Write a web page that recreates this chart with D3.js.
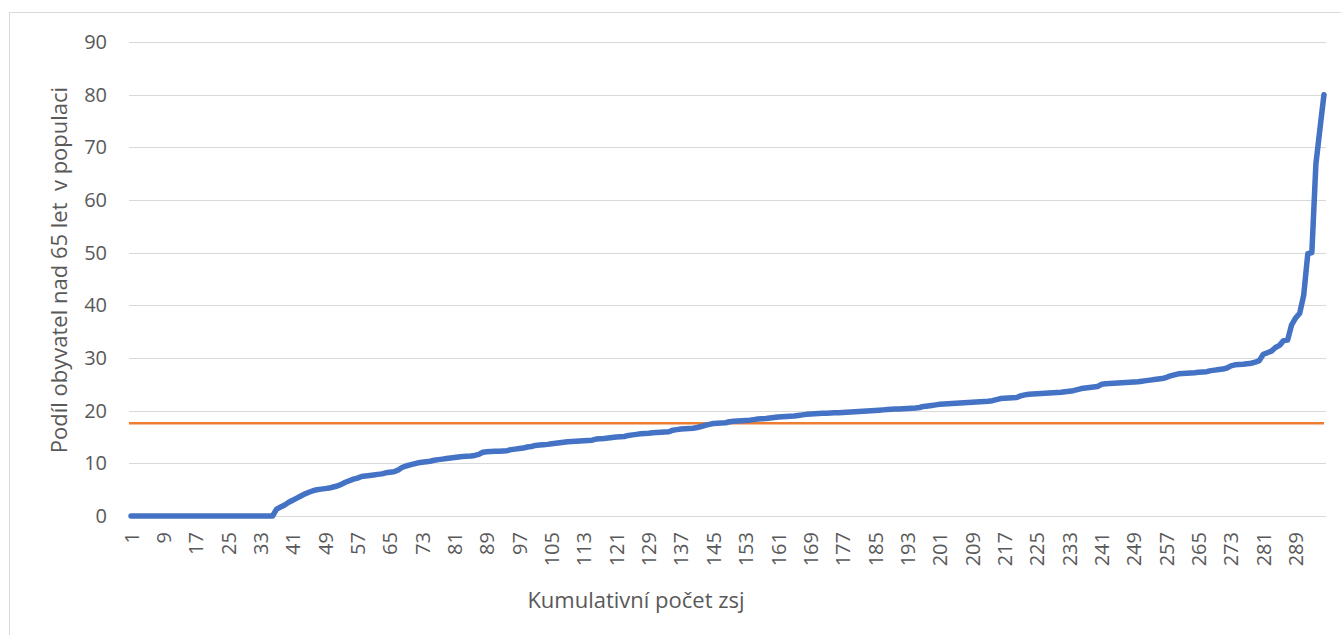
<!DOCTYPE html>
<html>
<head>
<meta charset="utf-8">
<script src="https://cdn.jsdelivr.net/npm/d3@7"></script>
<style>
  body { margin: 0; background: #fff; }
  svg text { font-family: "Open Sans", Lato, sans-serif; fill: #595959; }
</style>
</head>
<body>
<div id="chart"></div>
<script>
var width = 1341, height = 635;
var margin = {top: 42, right: 15, bottom: 119, left: 129};

// categories: poradi zsj 1..296
var categories = d3.range(1, 297);
var xTickLabels = categories.filter(function(c) { return (c - 1) % 8 === 0; });
var yTicks = [0, 10, 20, 30, 40, 50, 60, 70, 80, 90];

// podil obyvatel nad 65 let (serazeno)
var podil = [
  0,0,0,0,0,0,0,0,0,0, 0,0,0,0,0,0,0,0,0,0,
  0,0,0,0,0,0,0,0,0,0, 0,0,0,0,0,0,
  1.3,1.7,2.1,2.6,3.0,3.4,3.8,4.2,4.5,4.8,
  5.0,5.1,5.2,5.3,5.5,5.7,6.0,6.4,6.7,7.0,
  7.2,7.5,7.6,7.7,7.8,7.9,8.0,8.2,8.3,8.4,
  8.7,9.2,9.5,9.7,9.9,10.1,10.2,10.3,10.4,10.6,
  10.7,10.8,10.9,11.0,11.1,11.2,11.3,11.35,11.4,11.5,
  11.7,12.1,12.2,12.25,12.3,12.3,12.35,12.4,12.6,12.7,
  12.8,12.9,13.1,13.2,13.4,13.5,13.55,13.6,13.7,13.8,
  13.9,14.0,14.1,14.15,14.2,14.25,14.3,14.35,14.4,14.6,
  14.65,14.7,14.8,14.9,15.0,15.05,15.1,15.3,15.4,15.5,
  15.6,15.65,15.7,15.8,15.85,15.9,15.95,16.0,16.3,16.4,
  16.5,16.55,16.6,16.65,16.8,17.0,17.2,17.4,17.55,17.6,
  17.65,17.7,17.9,18.0,18.05,18.1,18.15,18.2,18.3,18.4,
  18.45,18.5,18.6,18.7,18.8,18.85,18.9,18.95,19.0,19.1,
  19.2,19.3,19.35,19.4,19.45,19.5,19.5,19.55,19.6,19.6,
  19.65,19.7,19.75,19.8,19.85,19.9,19.95,20.0,20.05,20.1,
  20.15,20.2,20.25,20.3,20.3,20.35,20.4,20.45,20.5,20.6,
  20.8,20.9,21.0,21.1,21.2,21.25,21.3,21.35,21.4,21.45,
  21.5,21.55,21.6,21.65,21.7,21.75,21.8,21.9,22.1,22.3,
  22.35,22.4,22.45,22.5,22.8,23.0,23.1,23.15,23.2,23.25,
  23.3,23.35,23.4,23.45,23.5,23.6,23.7,23.8,24.0,24.2,
  24.3,24.4,24.5,24.6,25.0,25.1,25.15,25.2,25.25,25.3,
  25.35,25.4,25.45,25.5,25.6,25.7,25.8,25.9,26.0,26.1,
  26.3,26.6,26.8,27.0,27.05,27.1,27.15,27.2,27.3,27.35,
  27.4,27.6,27.7,27.8,27.9,28.1,28.5,28.7,28.75,28.8,
  28.9,29.0,29.2,29.5,30.7,31.0,31.3,32.0,32.4,33.3,
  33.4,36.3,37.6,38.5,42.0,49.8,50.0,66.8,73.5,80.0
];

// prumerna hodnota (oranzova cara)
var prumer = 17.6;

var data = categories.map(function(c, i) { return {cat: c, val: podil[i]}; });

var svg = d3.select("#chart")
  .append("svg")
    .attr("width", width)
    .attr("height", height);

// ramecek grafu
svg.append("rect")
  .attr("x", 9.5).attr("y", 12.5)
  .attr("width", 1400).attr("height", 700)
  .attr("fill", "none")
  .attr("stroke", "#d9d9d9");

var x = d3.scalePoint()
  .domain(categories)
  .range([margin.left, width - margin.right])
  .padding(0.5);

var y = d3.scaleLinear()
  .domain([0, 90])
  .range([height - margin.bottom, margin.top]);

// mrizka
svg.append("g")
  .selectAll("line")
  .data(yTicks)
  .enter()
  .append("line")
    .attr("x1", margin.left)
    .attr("x2", width - margin.right)
    .attr("y1", function(d) { return Math.round(y(d)) + 0.5; })
    .attr("y2", function(d) { return Math.round(y(d)) + 0.5; })
    .attr("stroke", "#d9d9d9")
    .attr("stroke-width", 1);

// osa Y
var yAxis = svg.append("g")
  .attr("transform", "translate(" + (margin.left - 22) + ",0)")
  .call(d3.axisLeft(y).tickValues(yTicks).tickSize(0).tickPadding(0));
yAxis.select(".domain").remove();
yAxis.selectAll("text")
  .attr("font-size", 20)
  .attr("fill", "#595959")
  .style("font-family", "'Open Sans', sans-serif");

// osa X
var xAxis = svg.append("g")
  .attr("transform", "translate(0," + (height - margin.bottom + 16) + ")")
  .call(d3.axisBottom(x).tickValues(xTickLabels).tickSize(0).tickPadding(0));
xAxis.select(".domain").remove();
xAxis.selectAll("text")
  .attr("font-size", 20)
  .attr("fill", "#595959")
  .style("font-family", "'Open Sans', sans-serif")
  .attr("text-anchor", "end")
  .attr("dy", "0.35em")
  .attr("dx", 0)
  .attr("y", 0)
  .attr("transform", "rotate(-90)");

// prumer
svg.append("line")
  .attr("x1", x(categories[0]) - 2)
  .attr("x2", x(categories[categories.length - 1]))
  .attr("y1", y(prumer))
  .attr("y2", y(prumer))
  .attr("stroke", "#ed7d31")
  .attr("stroke-width", 2.5);

// hlavni krivka
var line = d3.line()
  .x(function(d) { return x(d.cat); })
  .y(function(d) { return y(d.val); });

svg.append("path")
  .datum(data)
  .attr("fill", "none")
  .attr("stroke", "#4472c4")
  .attr("stroke-width", 5.5)
  .attr("stroke-linejoin", "round")
  .attr("stroke-linecap", "round")
  .attr("d", line);

// popisky os
svg.append("text")
  .attr("x", 636)
  .attr("y", 608)
  .attr("text-anchor", "middle")
  .attr("font-size", 22)
  .text("Kumulativní počet zsj");

svg.append("text")
  .attr("transform", "translate(67,270) rotate(-90)")
  .attr("text-anchor", "middle")
  .attr("font-size", 22)
  .style("white-space", "pre")
  .text("Podíl obyvatel nad 65 let  v populaci");
</script>
</body>
</html>
